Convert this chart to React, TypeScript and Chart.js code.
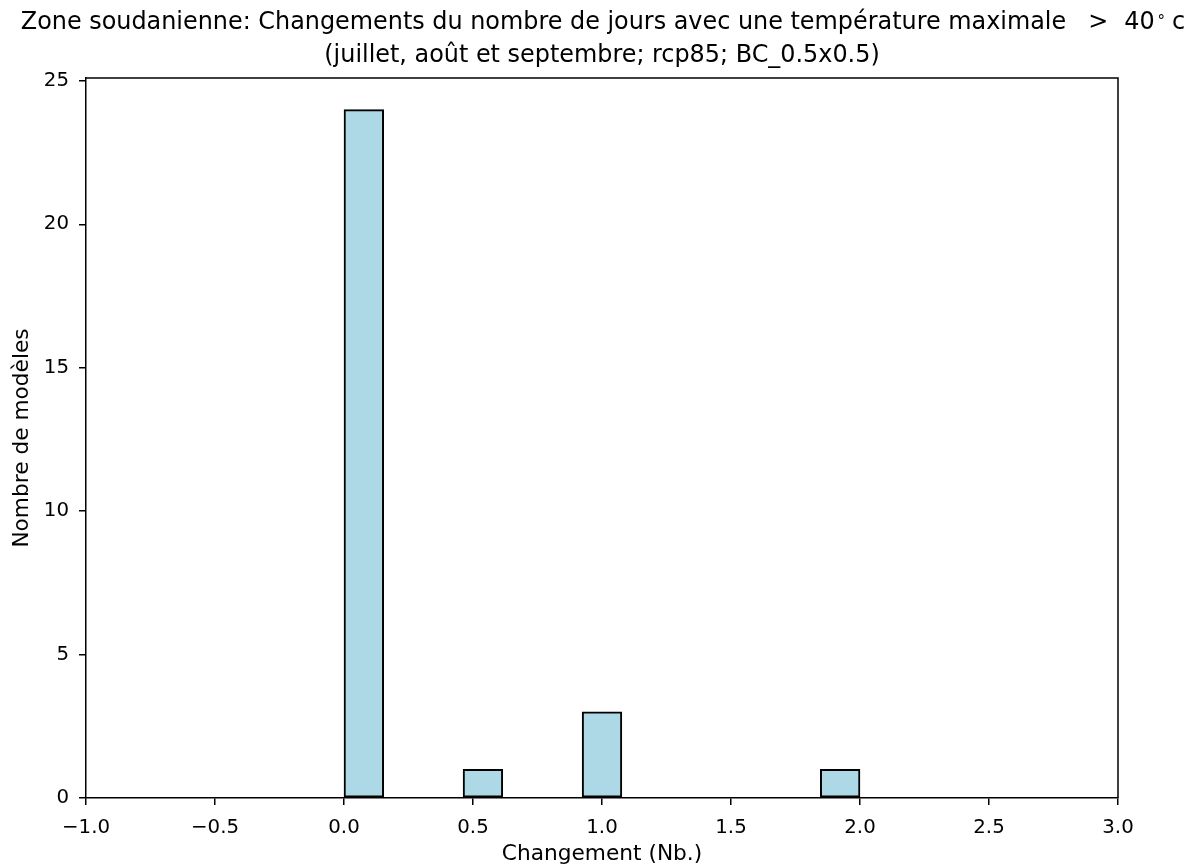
import React, { useEffect, useRef } from "react";
import { Chart, registerables } from "chart.js";
Chart.register(...registerables);

const titleMain = "Zone soudanienne: Changements du nombre de jours avec une température maximale";
const titleRel = ">";
const titleValue = "40";
const titleDegree = "°";
const titleUnit = "c";
const titleLine2 = "(juillet, août et septembre; rcp85; BC_0.5x0.5)";
const xLabel = "Changement (Nb.)";
const yLabel = "Nombre de modèles";

// histogram: 13 bins between binLow and binHigh
const binLow = 0;
const binHigh = 2;
const counts = [24, 0, 0, 1, 0, 0, 3, 0, 0, 0, 0, 0, 1];
const xTicks = [-1, -0.5, 0, 0.5, 1, 1.5, 2, 2.5, 3];
const yTicks = [0, 5, 10, 15, 20, 25];

const FONT = "'DejaVu Sans', sans-serif";
const TICK_SIZE = 19.8;
const LABEL_SIZE = 21.7;
const TITLE_SIZE = 23.9;

export default function App() {
  const ref = useRef<HTMLCanvasElement>(null);
  useEffect(() => {
    const canvas = ref.current!;
    const w = (binHigh - binLow) / counts.length;
    const data = counts.map((c, i) => ({ x: binLow + w * (i + 0.5), y: c }));
    const framePlugin = {
      id: "frame",
      afterDraw(chart: any) {
        const { ctx, chartArea: a } = chart;
        ctx.save();
        ctx.strokeStyle = "#000";
        ctx.lineWidth = 1.5;
        ctx.beginPath();
        ctx.moveTo(a.left, a.top);
        ctx.lineTo(a.right, a.top);
        ctx.lineTo(a.right, a.bottom);
        ctx.stroke();
        ctx.fillStyle = "#000";
        ctx.textBaseline = "alphabetic";
        // title line 1, composed of pieces (mathtext-like spacing)
        const big = `${TITLE_SIZE}px ${FONT}`;
        const small = `15px ${FONT}`;
        ctx.font = big;
        const w1 = ctx.measureText(titleMain).width;
        const w2 = ctx.measureText(titleRel).width;
        const w3 = ctx.measureText(titleValue).width;
        const w5 = ctx.measureText(titleUnit).width;
        ctx.font = small;
        const w4 = ctx.measureText(titleDegree).width;
        const g1 = 22, g2 = 16, g3 = 3, g4 = 7;
        const total = w1 + g1 + w2 + g2 + w3 + g3 + w4 + g4 + w5;
        let x = 603 - total / 2;
        ctx.textAlign = "left";
        ctx.font = big;
        ctx.fillText(titleMain, x, 29);
        x += w1 + g1;
        ctx.fillText(titleRel, x, 29);
        x += w2 + g2;
        ctx.fillText(titleValue, x, 29);
        x += w3 + g3;
        ctx.font = small;
        ctx.fillText(titleDegree, x, 26);
        x += w4 + g4;
        ctx.font = big;
        ctx.fillText(titleUnit, x, 29);
        ctx.textAlign = "center";
        ctx.fillText(titleLine2, 602, 62);
        ctx.font = `${LABEL_SIZE}px ${FONT}`;
        ctx.fillText(xLabel, (a.left + a.right) / 2, 860);
        ctx.translate(28, (a.top + a.bottom) / 2);
        ctx.rotate(-Math.PI / 2);
        ctx.fillText(yLabel, 0, 0);
        ctx.restore();
      },
    };
    const chart = new Chart(canvas, {
      type: "bar",
      data: {
        datasets: [
          {
            data,
            backgroundColor: "#add8e6",
            borderColor: "#000",
            borderWidth: 2,
            borderSkipped: false,
            barPercentage: 1,
            categoryPercentage: 1,
          },
        ],
      },
      options: {
        responsive: false,
        animation: false,
        layout: { padding: { top: 78, right: 75, left: 0, bottom: 0 } },
        plugins: { legend: { display: false }, tooltip: { enabled: false }, title: { display: false } },
        scales: {
          x: {
            type: "linear",
            min: -1,
            max: 3,
            offset: false,
            afterBuildTicks: (s: any) => {
              s.ticks = xTicks.map((v) => ({ value: v }));
            },
            afterFit: (s: any) => {
              s.height = 69;
            },
            ticks: {
              color: "#000",
              font: { family: FONT, size: TICK_SIZE },
              padding: 11,
              maxRotation: 0,
              autoSkip: false,
              callback: (v: any) => Number(v).toFixed(1).replace("-", "\u2212"),
            },
            grid: { offset: false, drawOnChartArea: false, drawTicks: true, tickLength: 7, color: "#000", lineWidth: 1.5 },
            border: { display: true, color: "#000", width: 1.5 },
          },
          y: {
            type: "linear",
            min: 0,
            max: 25.1,
            afterBuildTicks: (s: any) => {
              s.ticks = yTicks.map((v) => ({ value: v }));
            },
            afterFit: (s: any) => {
              s.width = 86;
            },
            ticks: {
              color: "#000",
              font: { family: FONT, size: TICK_SIZE },
              padding: 10,
              autoSkip: false,
              callback: (v: any) => String(v),
            },
            grid: { drawOnChartArea: false, drawTicks: true, tickLength: 7, color: "#000", lineWidth: 1.5 },
            border: { display: true, color: "#000", width: 1.5 },
          },
        },
      },
      plugins: [framePlugin],
    } as any);
    return () => chart.destroy();
  }, []);
  return (
    <div style={{ position: "fixed", left: 0, top: 0, width: 1193, height: 867, background: "#fff" }}>
      <canvas ref={ref} width={1193} height={867} style={{ width: 1193, height: 867, display: "block" }} />
    </div>
  );
}
